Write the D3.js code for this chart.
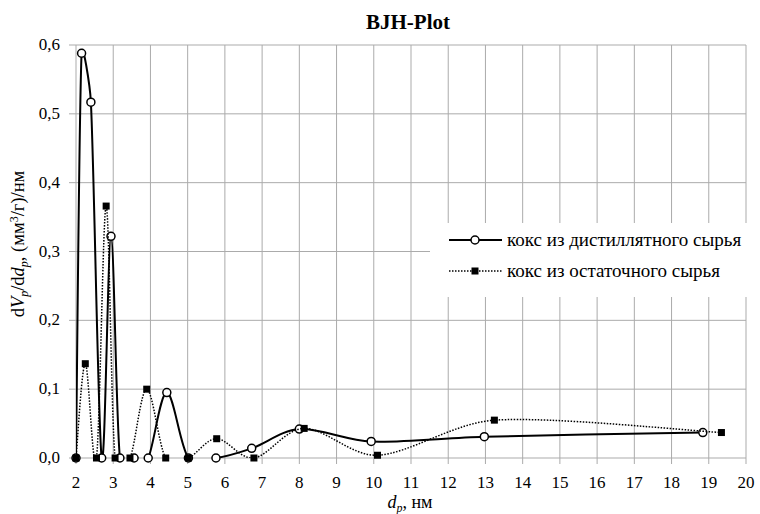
<!DOCTYPE html>
<html>
<head>
<meta charset="utf-8">
<script src="https://cdn.jsdelivr.net/npm/d3@7"></script>
<style>
  body { margin: 0; background: #fff; }
  svg { display: block; }
</style>
</head>
<body>
<svg width="760" height="514"></svg>
<script>
// pore diameter (nm) and dV/dd values
const distD = [2.0, 2.15, 2.40, 2.69, 2.94, 3.18, 3.56, 3.94, 4.44, 5.02, 5.76, 6.72, 8.0, 9.93, 12.97, 18.84];
const distV = [0, 0.588, 0.517, 0, 0.322, 0, 0, 0, 0.095, 0, 0, 0.014, 0.042, 0.024, 0.031, 0.037];
const resD = [2.0, 2.25, 2.55, 2.81, 3.05, 3.45, 3.9, 4.41, 5.02, 5.78, 6.78, 8.13, 10.1, 13.24, 19.34];
const resV = [0, 0.137, 0, 0.366, 0, 0, 0.1, 0, 0, 0.028, 0, 0.043, 0.004, 0.055, 0.037];
const xTicks = d3.range(2, 21, 1);
const yTicks = [0, 0.1, 0.2, 0.3, 0.4, 0.5, 0.6];
const seriesNames = ['кокс из дистиллятного сырья', 'кокс из остаточного сырья'];

const svg = d3.select('svg');
const serif = "'Liberation Serif', 'Times New Roman', Times, 'DejaVu Serif', 'Noto Serif', serif";

const x = d3.scaleLinear().domain([2, 20]).range([76, 746]);
const y = d3.scaleLinear().domain([0, 0.6]).range([458, 45]);

// gridlines
svg.append('g').selectAll('line').data(xTicks).join('line')
    .attr('x1', d => x(d)).attr('x2', d => x(d))
    .attr('y1', y(0.6)).attr('y2', y(0) + 6)
    .attr('stroke', '#ababab').attr('stroke-width', 1);
svg.append('g').selectAll('line').data(yTicks).join('line')
    .attr('x1', x(2) - 7).attr('x2', x(20))
    .attr('y1', d => y(d)).attr('y2', d => y(d))
    .attr('stroke', '#ababab').attr('stroke-width', 1);

// tick labels
svg.append('g').selectAll('text').data(xTicks).join('text')
    .attr('x', d => x(d)).attr('y', y(0) + 30)
    .attr('text-anchor', 'middle')
    .attr('font-family', serif).attr('font-size', 17)
    .text(d => d);
svg.append('g').selectAll('text').data(yTicks).join('text')
    .attr('x', x(2) - 16).attr('y', d => y(d) + 5)
    .attr('text-anchor', 'end')
    .attr('font-family', serif).attr('font-size', 17)
    .text(d => d3.format('.1f')(d).replace('.', ','));

// title
svg.append('text')
    .attr('x', 408).attr('y', 29)
    .attr('text-anchor', 'middle')
    .attr('font-family', serif).attr('font-size', 21).attr('font-weight', 'bold')
    .text('BJH-Plot');

// x axis title
const xt = svg.append('text')
    .attr('x', 410).attr('y', 508)
    .attr('text-anchor', 'middle')
    .attr('font-family', serif).attr('font-size', 18);
xt.append('tspan').attr('font-style', 'italic').text('d');
xt.append('tspan').attr('font-style', 'italic').attr('font-size', 12).attr('dy', 4).text('p');
xt.append('tspan').attr('dy', -4).text(', нм');

// y axis title
const yt = svg.append('text')
    .attr('transform', 'translate(24,244) rotate(-90)')
    .attr('text-anchor', 'middle')
    .attr('font-family', serif).attr('font-size', 18.5);
yt.append('tspan').text('d');
yt.append('tspan').attr('font-style', 'italic').text('V');
yt.append('tspan').attr('font-style', 'italic').attr('font-size', 12).attr('dy', 4).text('p');
yt.append('tspan').attr('dy', -4).text('/d');
yt.append('tspan').attr('font-style', 'italic').text('d');
yt.append('tspan').attr('font-style', 'italic').attr('font-size', 12).attr('dy', 4).text('p');
yt.append('tspan').attr('dy', -4).text(', (мм');
yt.append('tspan').attr('font-size', 12).attr('dy', -6).text('3');
yt.append('tspan').attr('dy', 6).text('/г)/нм');

// excel-like smoothed line
function smoothPath(pts) {
    const p = d3.path();
    p.moveTo(pts[0][0], pts[0][1]);
    const dist = (a, b) => Math.hypot(a[0] - b[0], a[1] - b[1]);
    for (let i = 0; i < pts.length - 1; i++) {
        const p0 = pts[i - 1] || pts[i];
        const p1 = pts[i];
        const p2 = pts[i + 1];
        const p3 = pts[i + 2] || pts[i + 1];
        const d12 = dist(p1, p2), d02 = dist(p0, p2), d13 = dist(p1, p3);
        const f1 = d02 / 6 < d12 / 3 ? 1 / 6 : (d12 / 3) / d02;
        const f2 = d13 / 6 < d12 / 3 ? 1 / 6 : (d12 / 3) / d13;
        p.bezierCurveTo(
            p1[0] + (p2[0] - p0[0]) * f1, p1[1] + (p2[1] - p0[1]) * f1,
            p2[0] - (p3[0] - p1[0]) * f2, p2[1] - (p3[1] - p1[1]) * f2,
            p2[0], p2[1]);
    }
    return p.toString();
}

svg.append('clipPath').attr('id', 'plotClip')
    .append('rect')
    .attr('x', x(2)).attr('y', y(0.6))
    .attr('width', x(20) - x(2)).attr('height', y(0) - y(0.6));

const distPts = distD.map((d, i) => [x(d), y(distV[i])]);
const resPts = resD.map((d, i) => [x(d), y(resV[i])]);

svg.append('path')
    .attr('d', smoothPath(distPts))
    .attr('clip-path', 'url(#plotClip)')
    .attr('fill', 'none').attr('stroke', '#000').attr('stroke-width', 2);
svg.append('g').selectAll('circle').data(distPts).join('circle')
    .attr('cx', d => d[0]).attr('cy', d => d[1]).attr('r', 4)
    .attr('fill', '#fff').attr('stroke', '#000').attr('stroke-width', 1.5);

svg.append('path')
    .attr('d', smoothPath(resPts))
    .attr('clip-path', 'url(#plotClip)')
    .attr('fill', 'none').attr('stroke', '#000').attr('stroke-width', 1.5)
    .attr('stroke-dasharray', '1.5,1.5');
svg.append('g').selectAll('rect').data(resPts).join('rect')
    .attr('x', d => d[0] - 3.5).attr('y', d => d[1] - 3.5)
    .attr('width', 7).attr('height', 7)
    .attr('fill', '#000');

// legend
const lg = svg.append('g');
lg.append('rect').attr('x', 430).attr('y', 223).attr('width', 330).attr('height', 74).attr('fill', '#fff');
lg.append('line').attr('x1', 449).attr('x2', 502).attr('y1', 240).attr('y2', 240)
    .attr('stroke', '#000').attr('stroke-width', 2);
lg.append('circle').attr('cx', 475).attr('cy', 240).attr('r', 4)
    .attr('fill', '#fff').attr('stroke', '#000').attr('stroke-width', 1.5);
lg.append('line').attr('x1', 449).attr('x2', 502).attr('y1', 271).attr('y2', 271)
    .attr('stroke', '#000').attr('stroke-width', 1.5).attr('stroke-dasharray', '1.5,1.5');
lg.append('rect').attr('x', 471.5).attr('y', 267.5).attr('width', 7).attr('height', 7).attr('fill', '#000');
lg.selectAll('text.leg').data(seriesNames).join('text')
    .attr('class', 'leg')
    .attr('x', 507).attr('y', (d, i) => 246 + i * 31)
    .attr('font-family', serif).attr('font-size', 19)
    .text(d => d);
</script>
</body>
</html>
